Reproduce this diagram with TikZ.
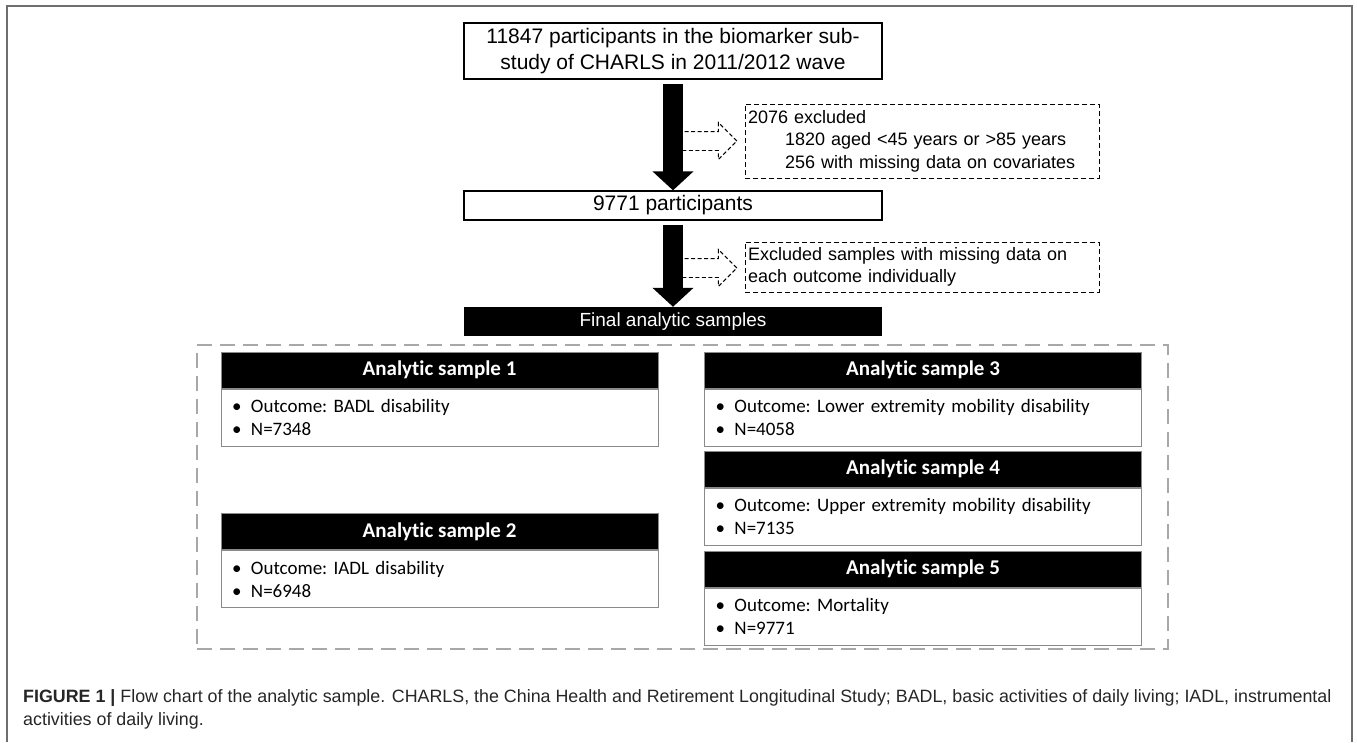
\documentclass[tikz,border=0pt]{standalone}
\usepackage{fontspec}
\setmainfont{Liberation Sans}
\newfontfamily\calibri[Ligatures={TeX,NoCommon}]{Carlito}
\usetikzlibrary{positioning,shapes.arrows,arrows.meta}
\definecolor{framegray}{HTML}{6E6E6E}
\definecolor{boxgray}{HTML}{8A8A8A}
\definecolor{groupgray}{HTML}{A8A8A8}
\tikzset{
  flowbox/.style={draw,line width=1.3pt,minimum width=418pt,inner sep=0pt,align=center},
  darkbox/.style={fill=black,text=white,minimum width=418pt,minimum height=29pt,inner sep=0pt},
  exclbox/.style={draw,dash pattern=on 5pt off 3pt,line width=1pt,minimum width=354pt,
    text width=348pt,inner sep=3pt,align=left,font=\fontsize{18}{22.5}\selectfont},
  bigarrow/.style={line width=20pt,shorten <=4pt,-{Triangle[width=40pt,length=19pt]}},
  hollowarrow/.style={single arrow,draw,dash pattern=on 4pt off 2.5pt,line width=0.9pt,
    minimum height=55pt,inner xsep=0pt,inner ysep=9pt,
    single arrow head extend=9pt,single arrow head indent=0pt},
  hdr/.style={draw=boxgray,line width=1pt,fill=black,text=white,minimum width=437pt,
    minimum height=36pt,inner sep=0pt,font=\calibri\bfseries\fontsize{21}{25}\selectfont},
  body/.style={draw=boxgray,line width=1pt,minimum width=437pt,minimum height=57pt,
    text width=415pt,inner xsep=11pt,inner ysep=0pt,align=left,
    font=\calibri\frenchspacing\fontsize{19}{23}\selectfont},
}
\newcommand{\bitem}{\makebox[19pt][l]{\textbullet}}
\begin{document}
\begin{tikzpicture}[x=1pt,y=-1pt]
\useasboundingbox (0,0) rectangle (1357,742);
% figure frame
\draw[framegray,line width=1.6pt] (7,742)--(7,6)--(1352,6)--(1352,742);
% main flow
\node[flowbox,minimum height=56pt,font=\fontsize{21}{26}\selectfont] (all) at (673,51)
  {11847 participants in the biomarker sub-\\study of CHARLS in 2011/2012 wave};
\node[flowbox,minimum height=29pt,font=\fontsize{21}{25}\selectfont] (kept) at (673,205.5)
  {9771 participants};
\node[darkbox,font=\fontsize{19}{23}\selectfont] (final) at (673,321.5) {Final analytic samples};
\draw[bigarrow] (all) -- (kept);
\draw[bigarrow] (kept) -- (final);
% exclusions
\node[exclbox,minimum height=74pt] (excl1) at (922,141)
  {2076 excluded\\\hspace*{37pt}1820 aged <45 years or >85 years\\\hspace*{37pt}256 with missing data on covariates};
\node[exclbox,minimum height=50pt] (excl2) at (922,267)
  {Excluded samples with missing data on\\each outcome individually};
\node[hollowarrow,anchor=tip] (toexcl1) at ([xshift=-7pt]excl1.west) {};
\node[hollowarrow,anchor=tip] (toexcl2) at ([xshift=-7pt,yshift=-1pt]excl2.west) {};
% analytic samples
\node[draw=groupgray,line width=2.4pt,dash pattern=on 15pt off 8pt,
  minimum width=971pt,minimum height=304pt] (group) at (682.5,497) {};
\node[hdr] (s1) at (439.5,370) {Analytic sample 1};
\node[body,below=0pt of s1] (s1b) {\bitem Outcome: BADL disability\\\bitem N=7348};
\node[hdr] (s2) at (439.5,531.5) {Analytic sample 2};
\node[body,below=0pt of s2] (s2b) {\bitem Outcome: IADL disability\\\bitem N=6948};
\node[hdr] (s3) at (923,370) {Analytic sample 3};
\node[body,below=0pt of s3] (s3b) {\bitem Outcome: Lower extremity mobility disability\\\bitem N=4058};
\node[hdr] (s4) at (923,469) {Analytic sample 4};
\node[body,below=0pt of s4] (s4b) {\bitem Outcome: Upper extremity mobility disability\\\bitem N=7135};
\node[hdr] (s5) at (923,569) {Analytic sample 5};
\node[body,below=0pt of s5] (s5b) {\bitem Outcome: Mortality\\\bitem N=9771};
% caption
\node[anchor=base west,inner sep=0pt,align=left,text=black!85,font=\fontsize{17.85}{23}\selectfont] (cap) at (23,725)
  {\textbf{FIGURE 1 |} Flow chart of the analytic sample. CHARLS, the China Health and Retirement Longitudinal Study; BADL, basic activities of daily living; IADL, instrumental\\activities of daily living.};
\end{tikzpicture}
\end{document}
